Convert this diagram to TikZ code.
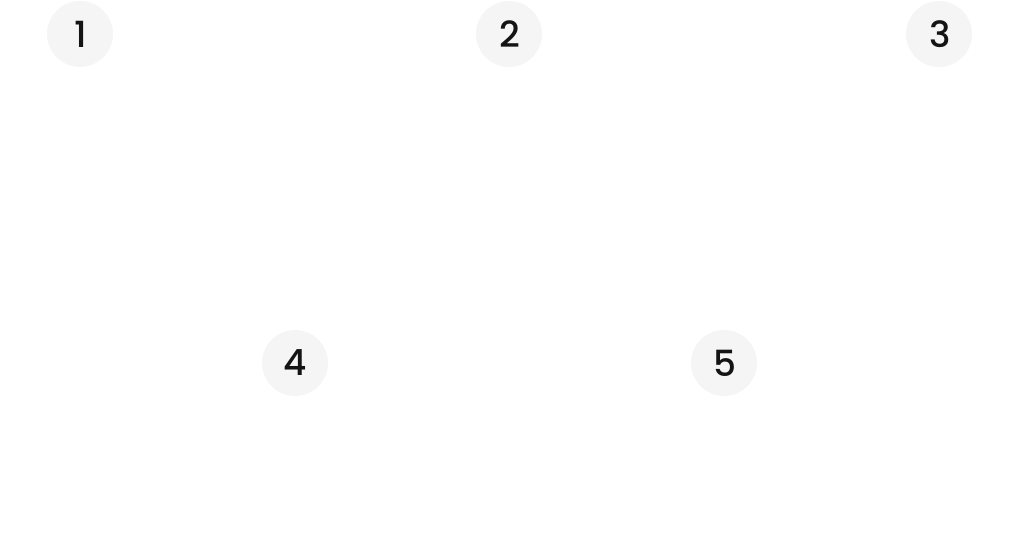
\documentclass[tikz,border=0pt]{standalone}
\usepackage{fontspec}
\setmainfont{Poppins}[UprightFont=* Medium]
\definecolor{circfill}{HTML}{F5F5F5}
\definecolor{numtext}{HTML}{141414}
\begin{document}
\begin{tikzpicture}[x=1pt,y=1pt,
  numcircle/.style={circle,fill=circfill,minimum size=66pt,inner sep=0pt,text=numtext,font=\fontsize{36}{36}\selectfont}]
\useasboundingbox (0,0) rectangle (1020,548);
\node[numcircle] (n1) at (80,514) {\hspace{2pt}1};
\node[numcircle] (n2) at (509,514) {\hspace{2pt}2};
\node[numcircle] (n3) at (939,514) {\hspace{2pt}3};
\node[numcircle] (n4) at (295,185) {4};
\node[numcircle] (n5) at (724,185) {\hspace{2pt}5};
\end{tikzpicture}
\end{document}
